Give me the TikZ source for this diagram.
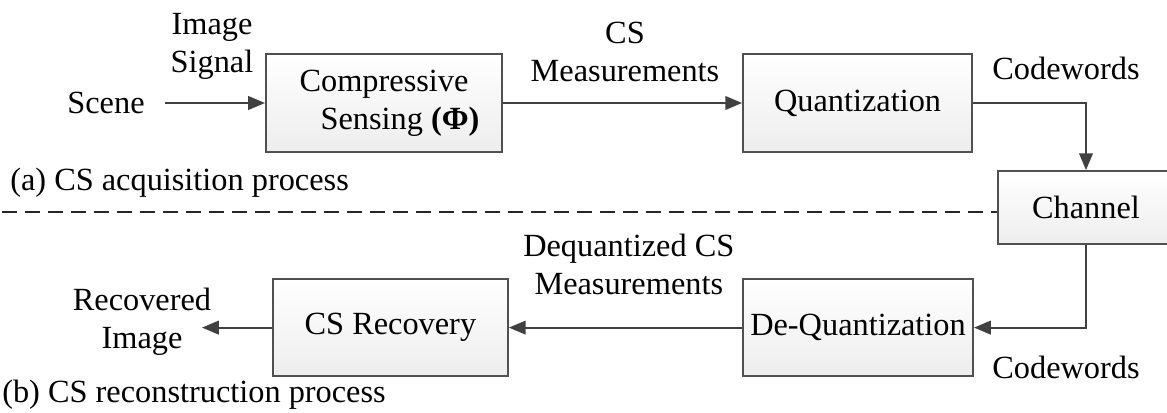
\documentclass[tikz,border=0pt]{standalone}
\usepackage{fontspec}
\setmainfont{LiberationSerif}[Extension=.ttf, UprightFont=*-Regular, BoldFont=*-Bold,
  ItalicFont=*-Italic, BoldItalicFont=*-BoldItalic]
\definecolor{lineC}{RGB}{64,64,64}
\definecolor{boxC}{RGB}{80,80,80}
\usetikzlibrary{arrows.meta,positioning,calc}
\tikzset{
  block/.style={rectangle, draw=boxC, line width=1.4pt, inner sep=0pt,
                top color=white, bottom color=gray!14, align=center},
  flow/.style={-{Triangle[length=0.42cm,width=0.34cm]}, line width=1.4pt, draw=lineC},
  lbl/.style={align=center, inner sep=0pt},
  cutline/.style={line width=1.4pt, black!85, dash pattern=on 0.375cm off 0.2cm},
}

\begin{document}
\begin{tikzpicture}[font=\fontsize{23}{27}\selectfont]
  \useasboundingbox (0,0) rectangle (29.175,-10.3);
  \clip (0,0) rectangle (29.175,-10.3);
  % Acquisition side
  \node[block, minimum width=5.9cm, minimum height=2.45cm] (cs) at (9.6,-2.575)
    {Compressive\\\hspace*{0.8cm}Sensing \textbf{(Φ)}};
  \node[block, minimum width=5.725cm, minimum height=2.45cm] (quant) at (21.44,-2.575) {Quantization};
  \node[block, minimum width=4.4cm, minimum height=1.825cm] (chan) at (27.15,-5.19) {Channel};
  % Reconstruction side
  \node[block, minimum width=5.75cm, minimum height=2.425cm] (dequant) at (21.45,-8.19) {De-Quantization};
  \node[block, minimum width=5.875cm, minimum height=2.425cm] (recov) at (9.76,-8.19) {CS Recovery};
  % Labels
  \node[lbl] (scene) at (2.65,-2.575) {Scene};
  \node[lbl] (imgsig) at (5.3,-1.15) {Image\\Signal};
  \node[lbl] (csmeas) at (15.625,-1.3) {CS\\Measurements};
  \node[lbl] (cwtop) at (26.65,-1.7) {Codewords};
  \node[lbl] (dqmeas) at (15.72,-6.62) {Dequantized CS\\Measurements};
  \node[lbl] (cwbot) at (26.65,-9.175) {Codewords};
  \node[lbl] (recimg) at (3.55,-8.05) {Recovered\\Image};
  \node[lbl, anchor=base west] (capa) at (0.25,-4.75) {(a) CS acquisition process};
  \node[lbl, anchor=base west] (capb) at (0.05,-10.05) {(b) CS reconstruction process};
  \coordinate (recend) at (5.05,-8.19);
  \coordinate (cut) at (0.05,-5.3);
  % Connectors
  \draw[flow, shorten <=0.5cm] (scene.east) -- (cs.west);
  \draw[flow] (cs.east) -- (quant.west);
  \draw[flow] (quant.east) -| (chan.north);
  \draw[flow] (chan.south) |- (dequant.east);
  \draw[flow] (dequant.west) -- (recov.east);
  \draw[flow] (recov.west) -- (recend);
  \draw[cutline] (cut) -- (cut -| chan.west);
\end{tikzpicture}
\end{document}
